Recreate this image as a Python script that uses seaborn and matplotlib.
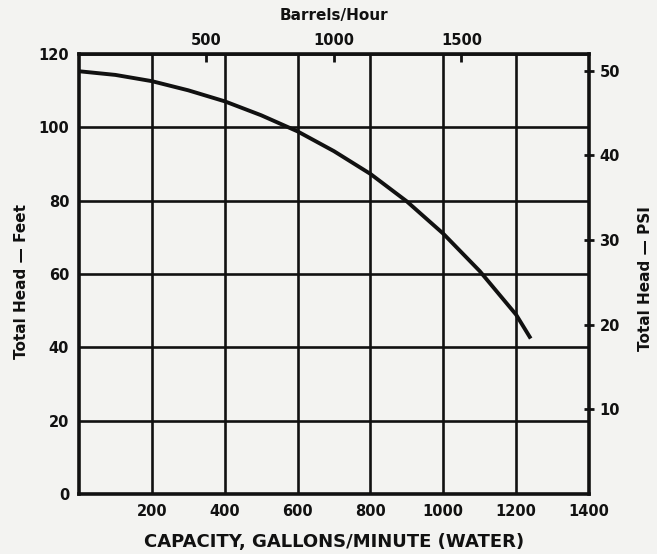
import matplotlib
matplotlib.use("Agg")
import matplotlib.pyplot as plt
import seaborn as sns
import pandas as pd

# Pump performance curve: capacity (gpm) vs total head (ft)
capacity_gpm = [0, 100, 200, 300, 400, 500, 600, 700, 800, 900, 1000, 1100, 1200, 1240]
head_ft = [115.3, 114.3, 112.6, 110.1, 107.1, 103.3, 98.9, 93.5, 87.3, 79.8, 71.0, 60.8, 48.9, 42.4]

x_ticks = [200, 400, 600, 800, 1000, 1200, 1400]
y_ticks = [0, 20, 40, 60, 80, 100, 120]
psi_ticks = [10, 20, 30, 40, 50]
bph_ticks = [500, 1000, 1500]

FT_PER_PSI = 2.31
BPH_PER_GPM = 60.0 / 42.0

paper = "#f3f3f1"
ink = "#111111"

sns.set_style("white")
plt.rcParams["font.family"] = ["DejaVu Sans"]
plt.rcParams["font.weight"] = "bold"

fig = plt.figure(figsize=(6.57, 5.54), dpi=100, facecolor=paper)
ax = fig.add_axes([0.1202, 0.1083, 0.7763, 0.7942], facecolor=paper)

df = pd.DataFrame({"gpm": capacity_gpm, "head": head_ft})
sns.lineplot(data=df, x="gpm", y="head", ax=ax, color=ink, linewidth=2.8,
             solid_capstyle="butt", zorder=5)

ax.set_xlim(0, 1400)
ax.set_ylim(0, 120)

# heavy grid at every major division
for gx in x_ticks:
    ax.axvline(gx, color=ink, lw=1.9, zorder=2)
for gy in y_ticks:
    ax.axhline(gy, color=ink, lw=1.9, zorder=2)

for s in ax.spines.values():
    s.set_linewidth(2.6)
    s.set_color(ink)

tick_font = dict(fontsize=10.5, fontweight="bold", color=ink)

ax.set_xticks(x_ticks)
ax.set_xticklabels([str(v) for v in x_ticks], **tick_font)
ax.set_yticks(y_ticks)
ax.set_yticklabels([str(v) for v in y_ticks], **tick_font)
ax.tick_params(axis="y", length=0, pad=7)
ax.tick_params(axis="x", length=0, pad=7)

ax.set_xlabel("CAPACITY, GALLONS/MINUTE (WATER)", fontsize=13, fontweight="bold",
              color=ink, labelpad=10)
ax.set_ylabel("Total Head — Feet", fontsize=11, fontweight="bold", color=ink)
ax.yaxis.set_label_coords(-0.098, 0.482)

# right axis in PSI
ax2 = ax.twinx()
ax2.set_ylim(0, 120 / FT_PER_PSI)
ax2.set_yticks(psi_ticks)
ax2.set_yticklabels([str(v) for v in psi_ticks], **tick_font)
ax2.tick_params(axis="y", direction="inout", length=7, width=2, pad=4, color=ink)
ax2.set_ylabel("Total Head — PSI", fontsize=11, fontweight="bold", color=ink)
ax2.yaxis.set_label_coords(1.096, 0.49)
for s in ax2.spines.values():
    s.set_visible(False)

# top axis in barrels per hour
ax3 = ax.twiny()
ax3.set_xlim(0, 1400 * BPH_PER_GPM)
ax3.set_xticks(bph_ticks)
ax3.set_xticklabels([str(v) for v in bph_ticks], **tick_font)
ax3.tick_params(axis="x", direction="in", length=6, width=2, pad=4, color=ink)
ax3.set_xlabel("Barrels/Hour", fontsize=11, fontweight="bold", color=ink, labelpad=10)
for s in ax3.spines.values():
    s.set_visible(False)

fig.savefig("out.png", dpi=100, facecolor=paper)
